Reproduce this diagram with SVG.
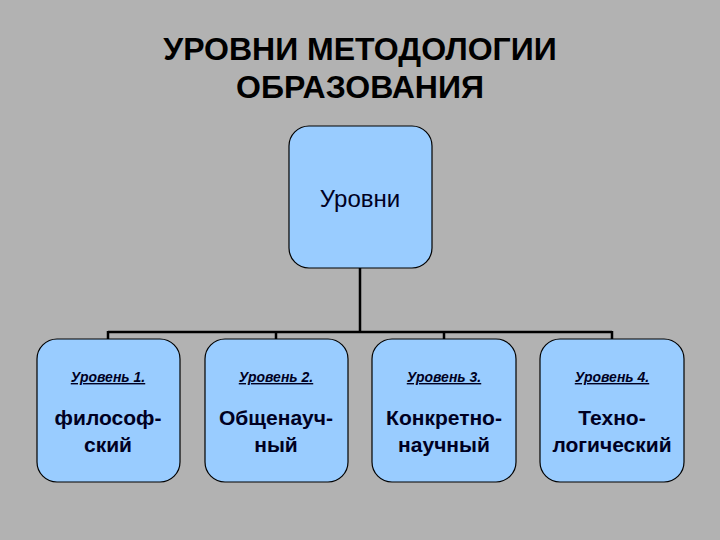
<svg xmlns="http://www.w3.org/2000/svg" width="720" height="540" viewBox="0 0 720 540">
<style>
.b{fill:#99ccff;stroke:#000;stroke-width:1.2}
.t{font-family:"Liberation Sans",Arial,sans-serif;fill:#000022;text-anchor:middle}
.h{fill:#000;font-size:32px;font-weight:bold}
.s{font-size:14px;font-style:italic;font-weight:bold;text-decoration:underline}
.m{font-size:21px;font-weight:bold}
.c{stroke:#000;stroke-width:2.5;fill:none}
</style>
<rect width="720" height="540" fill="#b2b2b2"/>
<g id="title"><text class="t h" x="360" y="60">УРОВНИ МЕТОДОЛОГИИ</text>
<text class="t h" x="360" y="98">ОБРАЗОВАНИЯ</text></g>
<g id="connectors"><path class="c" d="M360 268V332M108 332H612M108 331V340M276 331V340M444 331V340M612 331V340"/></g>
<g id="root"><rect class="b" x="289" y="126" width="143" height="142" rx="20"/><text class="t" x="360" y="207" font-size="24">Уровни</text></g>
<g id="n1"><rect class="b" x="37" y="339" width="143" height="143" rx="20"/><text class="t s" x="108" y="382">Уровень 1.</text><text class="t m" x="108" y="425">философ-</text><text class="t m" x="108" y="452">ский</text></g>
<g id="n2"><rect class="b" x="205" y="339" width="143" height="143" rx="20"/><text class="t s" x="276" y="382">Уровень 2.</text><text class="t m" x="276" y="425">Общенауч-</text><text class="t m" x="276" y="452">ный</text></g>
<g id="n3"><rect class="b" x="372" y="339" width="144" height="143" rx="20"/><text class="t s" x="444" y="382">Уровень 3.</text><text class="t m" x="444" y="425">Конкретно-</text><text class="t m" x="444" y="452">научный</text></g>
<g id="n4"><rect class="b" x="540" y="339" width="144" height="143" rx="20"/><text class="t s" x="612" y="382">Уровень 4.</text><text class="t m" x="612" y="425">Техно-</text><text class="t m" x="612" y="452">логический</text></g>
</svg>
